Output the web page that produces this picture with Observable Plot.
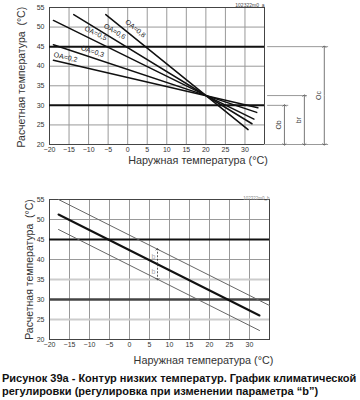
<!DOCTYPE html>
<html><head><meta charset="utf-8">
<script src="https://cdn.jsdelivr.net/npm/d3@7"></script>
<script src="https://cdn.jsdelivr.net/npm/@observablehq/plot@0.6"></script>
<style>
body{margin:0;background:#fff;font-family:"Liberation Sans",Arial,sans-serif;}
#wrap{width:360px;}
svg{display:block;}
#cap{font-weight:bold;font-size:11px;line-height:13px;color:#111;padding-left:2px;margin-top:2px;white-space:nowrap;}
</style></head>
<body><div id="wrap"><div id="c1"></div><div id="c2"></div>
<div id="cap">Рисунок 39а - Контур низких температур. График климатической<br>регулировки (регулировка при изменении параметра “b”)</div></div>
<script>
// ---- data ----
const xTicks = [-20,-15,-10,-5,0,5,10,15,20,25,30];
const yTicks = [20,25,30,35,40,45,50,55];
const xGrid = [-15,-10,-5,0,5,10,15,20,25,30];
const yGrid = [25,35,40,50];
const limitLines = [45,30];
const oaLabels = ["OA=0,2","OA=0,3","OA=0,5","OA=0,6","OA=0,8"];
const oaStartX = [-19,-19,-19,-13.8,-5.6];
const oaStartY = [41.5,45.5,51.7,53.2,53.2];
const oaEndX = [33.3,33,32.3,31.8,30.8];
const oaEndY = [29.4,28.2,26.5,25.3,23.8];
const oaLabelX = [-15.9,-9,-8.2,-3.3,2];
const oaLabelY = [42.3,43.8,48.4,48.9,49.6];
const oaLabelAngle = [13,18,26,31,39];
const bSeries = ["upper","middle","lower"];
const bStartX = [-17.75,-17.75,-17.75];
const bStartY = [55,51.25,47.5];
const bEndX = [35,32.5,32.5];
const bEndY = [28.5,26,22.25];
const dimLabels = ["Ob","br","Oc"];
const dimTop = [30,32.5,45];
const dimBottom = 20;
const xTitle = "Наружная температура (°C)";
const yTitle = "Расчетная температура  (°C)";

const font = "'Liberation Sans', Arial, sans-serif";
const lines1 = [];
oaLabels.forEach((l,i)=>{lines1.push({k:l,x:oaStartX[i],y:oaStartY[i]});lines1.push({k:l,x:oaEndX[i],y:oaEndY[i]});});
const labels1 = oaLabels.map((l,i)=>({t:l,x:oaLabelX[i],y:oaLabelY[i],r:oaLabelAngle[i]}));

const common = (opts)=>({
  width:360, x:{domain:[-20,35], ticks:xTicks, tickSize:0, tickPadding:3, label:null},
  y:{domain:[20,55], ticks:yTicks, tickSize:0, tickPadding:5, label:null},
  style:{fontFamily:font, fontSize:"7px", color:"#333", background:"#fff", overflow:"visible"},
  ...opts
});

// dimension annotation positions (x in data units beyond the frame)
const dimX = [40.1,45.2,50.3];
const dimLineX2 = [41.2,46,51.4];
const dims = dimLabels.map((l,i)=>({l, x:dimX[i], top:dimTop[i], x2:dimLineX2[i], lx:dimX[i]-1.5, ly:(dimTop[i]+dimBottom)/2}));

const p1 = Plot.plot(common({
  height:180, marginLeft:49, marginRight:96, marginTop:7, marginBottom:36,
  marks:[
    Plot.ruleX(xGrid,{stroke:"#999",strokeWidth:1}),
    Plot.ruleY(yGrid,{stroke:"#999",strokeWidth:1}),
    Plot.frame({stroke:"#444"}),
    Plot.ruleY(limitLines,{x1:-20,x2:35,stroke:"#111",strokeWidth:2}),
    // dimension lines
    Plot.ruleY([20],{x1:35,x2:51.4,stroke:"#999"}),
    Plot.ruleY(dims,{y:"top",x1:35.8,x2:"x2",stroke:"#999"}),
    Plot.link(dims,{x1:"x",x2:"x",y1:d=>d.ly,y2:"top",stroke:"#555",strokeWidth:0.8,markerEnd:"arrow"}),
    Plot.link(dims,{x1:"x",x2:"x",y1:d=>d.ly,y2:dimBottom,stroke:"#555",strokeWidth:0.8,markerEnd:"arrow"}),
    Plot.text(dims,{x:"lx",y:"ly",text:"l",rotate:-90,fontSize:7,fill:"#333"}),
    Plot.line(lines1,{x:"x",y:"y",z:"k",stroke:"#111",strokeWidth:1.5}),
    Plot.text(labels1,{x:"x",y:"y",text:"t",rotate:"r",fontSize:7,fill:"#222"}),
    Plot.text(["102322m0_a"],{frameAnchor:"top-right",dy:-4,fontSize:5,fill:"#444"}),
    Plot.text([xTitle],{x:18,frameAnchor:"bottom",dy:19,fontSize:10.8,fill:"#333",textAnchor:"middle"}),
    Plot.text([yTitle],{y:37.2,frameAnchor:"left",dx:-28,rotate:-90,fontSize:10.5,fill:"#333",textAnchor:"middle"})
  ]
}));
document.getElementById("c1").appendChild(p1);

const lines2 = [];
bSeries.forEach((s,i)=>{lines2.push({k:s,x:bStartX[i],y:bStartY[i]});lines2.push({k:s,x:bEndX[i],y:bEndY[i]});});
const slopeAt = (i,x)=> bStartY[i] + (bEndY[i]-bStartY[i])*(x-bStartX[i])/(bEndX[i]-bStartX[i]);
const bx = 7;
const bArrow = [{x:bx, y1:slopeAt(2,bx), y2:slopeAt(0,bx), ym:slopeAt(1,bx)}];

const p2 = Plot.plot(common({
  height:190, marginLeft:49, marginRight:91, marginTop:19, marginBottom:31,
  marks:[
    Plot.ruleX(xGrid,{stroke:"#999",strokeWidth:1}),
    Plot.ruleY([50,40],{stroke:"#999",strokeWidth:1}),
    Plot.ruleY([35,25],{stroke:"#ccc",strokeWidth:2}),
    Plot.frame({stroke:"#444"}),
    Plot.ruleY([45],{x1:-20,x2:35,stroke:"#111",strokeWidth:2}),
    Plot.ruleY([30],{x1:-20,x2:35,stroke:"#444",strokeWidth:2.5}),
    Plot.line(lines2.filter(d=>d.k!=="middle"),{x:"x",y:"y",z:"k",stroke:"#666",strokeWidth:1}),
    Plot.line(lines2.filter(d=>d.k==="middle"),{x:"x",y:"y",stroke:"#111",strokeWidth:2}),
    Plot.link(bArrow,{x1:"x",x2:"x",y1:"ym",y2:"y2",stroke:"#333",strokeWidth:0.8,strokeDasharray:"2,1.5",markerEnd:"arrow"}),
    Plot.link(bArrow,{x1:"x",x2:"x",y1:"ym",y2:"y1",stroke:"#333",strokeWidth:0.8,strokeDasharray:"2,1.5",markerEnd:"arrow"}),
    Plot.text(["b","b"],{x:6,y:(d,i)=>i===0?40.75:37,fontSize:7,fill:"#aaa"}),
    Plot.text(["102322m0_b"],{frameAnchor:"top-right",dy:-3,fontSize:4.5,fill:"#888"}),
    Plot.text([xTitle],{x:18.5,frameAnchor:"bottom",dy:24,fontSize:10.8,fill:"#333",textAnchor:"middle"}),
    Plot.text([yTitle],{y:37.5,frameAnchor:"left",dx:-20,rotate:-90,fontSize:10.5,fill:"#333",textAnchor:"middle"})
  ]
}));
document.getElementById("c2").appendChild(p2);
</script></body></html>
